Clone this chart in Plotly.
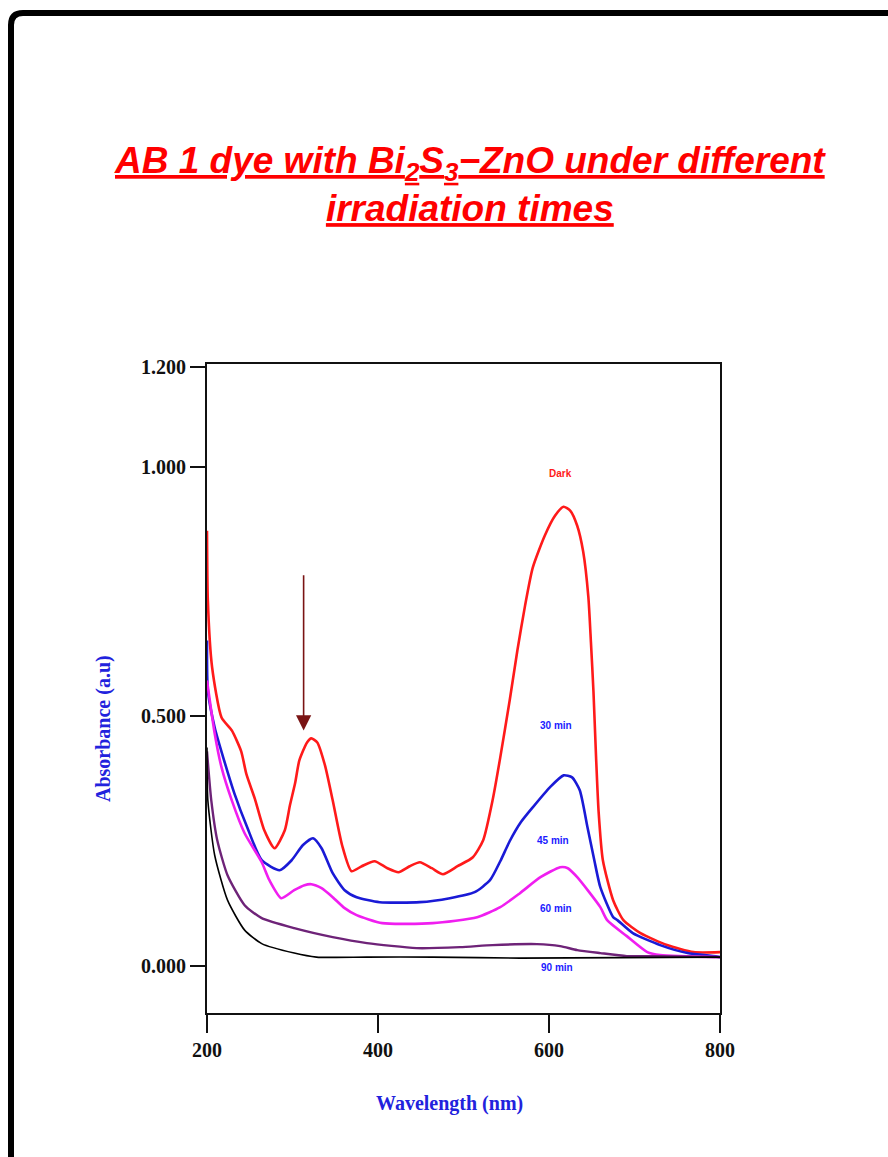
import plotly.graph_objects as go

# ---------------- data (wavelength nm, absorbance a.u.) ----------------
dark_x = [200, 201, 206, 217, 229, 240, 246, 256, 267, 279, 291, 297, 303, 308, 317, 322, 329, 338,
          347, 358, 369, 381, 396, 411, 424, 437, 449, 463, 476, 493, 511, 523, 534, 543, 554, 563,
          572, 581, 595, 607, 617, 625, 633, 640, 646, 649, 652, 655, 658, 663, 675, 687, 707, 738,
          769, 800]
dark_y = [0.872, 0.732, 0.598, 0.498, 0.472, 0.430, 0.385, 0.335, 0.272, 0.236, 0.272, 0.322, 0.366,
          0.412, 0.448, 0.456, 0.448, 0.402, 0.332, 0.242, 0.190, 0.200, 0.210, 0.196, 0.188, 0.200,
          0.208, 0.196, 0.184, 0.200, 0.218, 0.252, 0.332, 0.418, 0.532, 0.632, 0.722, 0.798, 0.862,
          0.902, 0.920, 0.912, 0.882, 0.830, 0.740, 0.650, 0.550, 0.420, 0.310, 0.212, 0.132, 0.092,
          0.066, 0.042, 0.028, 0.028]

m30_x = [200, 201, 209, 220, 232, 247, 264, 285, 299, 312, 324, 334, 347, 361, 375, 402, 449, 484,
         513, 531, 543, 554, 567, 581, 601, 617, 627, 636, 645, 653, 660, 675, 680, 698, 730, 762, 792, 800]
m30_y = [0.652, 0.552, 0.478, 0.412, 0.346, 0.278, 0.212, 0.192, 0.212, 0.242, 0.256, 0.236, 0.186,
         0.152, 0.138, 0.128, 0.128, 0.136, 0.148, 0.172, 0.210, 0.250, 0.288, 0.318, 0.358, 0.382,
         0.378, 0.352, 0.278, 0.212, 0.158, 0.098, 0.092, 0.066, 0.042, 0.026, 0.020, 0.018]

m45_x = [200, 209, 217, 229, 244, 264, 273, 287, 302, 314, 322, 334, 347, 361, 375, 405, 464, 516,
         543, 566, 590, 613, 622, 633, 660, 668, 691, 715, 730, 800]
m45_y = [0.572, 0.466, 0.398, 0.332, 0.266, 0.208, 0.172, 0.136, 0.152, 0.162, 0.164, 0.156, 0.138,
         0.116, 0.102, 0.086, 0.086, 0.098, 0.118, 0.146, 0.178, 0.198, 0.196, 0.178, 0.118, 0.092,
         0.060, 0.028, 0.022, 0.018]

m60_x = [200, 205, 212, 224, 244, 264, 302, 347, 387, 445, 496, 534, 586, 613, 633, 660, 691, 730, 800]
m60_y = [0.430, 0.332, 0.252, 0.182, 0.122, 0.096, 0.076, 0.058, 0.046, 0.036, 0.038, 0.042, 0.044,
         0.040, 0.032, 0.026, 0.020, 0.020, 0.018]

m90_x = [200, 201, 209, 224, 244, 264, 302, 328, 387, 464, 566, 800]
m90_y = [0.438, 0.332, 0.222, 0.132, 0.072, 0.045, 0.026, 0.018, 0.018, 0.018, 0.016, 0.018]

series_names = ["Dark", "30 min", "45 min", "60 min", "90 min"]
label_x = [614, 608, 605, 608, 609]
label_y = [0.986, 0.482, 0.252, 0.116, -0.002]

y_tickvals = [0.0, 0.5, 1.0, 1.2]
y_ticktext = ["0.000", "0.500", "1.000", "1.200"]
x_tickvals = [200, 400, 600, 800]
x_ticktext = ["200", "400", "600", "800"]

arrow_x = 313
arrow_head_y = 0.472
arrow_tail_y = 0.786

# ---------------- figure ----------------
W, H = 888, 1157
ML, MR, MT, MB = 207, 168, 364, 144
PW, PH = W - ML - MR, H - MT - MB


def px(x):
    return (x - ML) / PW


def py(y):
    return (H - MB - y) / PH


fig = go.Figure()
curves = [
    (dark_x, dark_y, "#ff1a1a", 2.6),
    (m30_x, m30_y, "#1a1ad6", 2.6),
    (m45_x, m45_y, "#f01ef0", 2.6),
    (m60_x, m60_y, "#6e2378", 2.4),
    (m90_x, m90_y, "#000000", 1.6),
]
for (xs, ys, c, w), name in zip(curves, series_names):
    fig.add_trace(go.Scatter(x=xs, y=ys, mode="lines", name=name,
                             line=dict(color=c, width=w, shape="spline", smoothing=0.6),
                             showlegend=False, hoverinfo="skip"))

label_colors = ["#ff1a1a", "#1a1aff", "#1a1aff", "#1a1aff", "#1a1aff"]
for name, lx, ly, lc in zip(series_names, label_x, label_y, label_colors):
    fig.add_annotation(x=lx, y=ly, text="<b>%s</b>" % name, showarrow=False,
                       xanchor="center", yanchor="middle",
                       font=dict(family="Liberation Sans, Arial", size=10, color=lc))

# arrow
fig.add_annotation(x=arrow_x, y=arrow_head_y, ax=arrow_x, ay=arrow_tail_y, axref="x", ayref="y",
                   xref="x", yref="y", text="", showarrow=True, arrowhead=2, arrowsize=1.9,
                   arrowwidth=1.6, arrowcolor="#7a1414")

# title
fig.add_annotation(xref="paper", yref="paper", x=px(470), y=py(185), xanchor="center", yanchor="middle",
                   text="<b><i><u>AB 1 dye with Bi<sub>2</sub>S<sub>3</sub>\u2212ZnO under different</u></i></b><br>"
                        "<b><i><u>irradiation times</u></i></b>",
                   showarrow=False, align="center",
                   font=dict(family="Liberation Sans, Arial", size=37, color="#ff0000"))

# axis titles
fig.add_annotation(xref="paper", yref="paper", x=px(103), y=py(729), textangle=-90,
                   xanchor="center", yanchor="middle",
                   text="<b>Absorbance (a.u)</b>", showarrow=False,
                   font=dict(family="Liberation Serif, Times New Roman", size=20, color="#2222dd"))
fig.add_annotation(xref="paper", yref="paper", x=px(449), y=py(1103),
                   xanchor="center", yanchor="middle",
                   text="<b>Wavelength (nm)</b>", showarrow=False,
                   font=dict(family="Liberation Serif, Times New Roman", size=20, color="#2222dd"))

# outer frame (page border)
r = 12
x0, y0 = px(11), py(13)
x1, y1 = px(900), py(1170)
fig.add_shape(type="path", xref="paper", yref="paper",
              path=f"M {x0},{y1} L {x0},{py(13 + r)} Q {x0},{y0} {px(11 + r)},{y0} L {x1},{y0}",
              line=dict(color="black", width=6))

tick_font = dict(family="Liberation Serif, Times New Roman", size=20, color="#111", weight="bold")
fig.update_xaxes(range=[200, 800], tickvals=x_tickvals, ticktext=x_ticktext,
                 showline=True, mirror=True, linecolor="#111", linewidth=2,
                 ticks="outside", ticklen=18, tickwidth=2, tickcolor="#111",
                 showgrid=False, zeroline=False, tickfont=tick_font)
fig.update_yaxes(range=[-0.094, 1.206], tickvals=y_tickvals, ticktext=y_ticktext,
                 showline=True, mirror=True, linecolor="#111", linewidth=2,
                 ticks="outside", ticklen=15, tickwidth=2, tickcolor="#111",
                 showgrid=False, zeroline=False, tickfont=tick_font)

fig.update_layout(width=W, height=H, margin=dict(l=ML, r=MR, t=MT, b=MB),
                  paper_bgcolor="white", plot_bgcolor="white", showlegend=False)

fig.write_html("out.html", config={"displayModeBar": False},
               post_script="document.body.style.margin='0px';document.body.style.overflow='hidden';")
